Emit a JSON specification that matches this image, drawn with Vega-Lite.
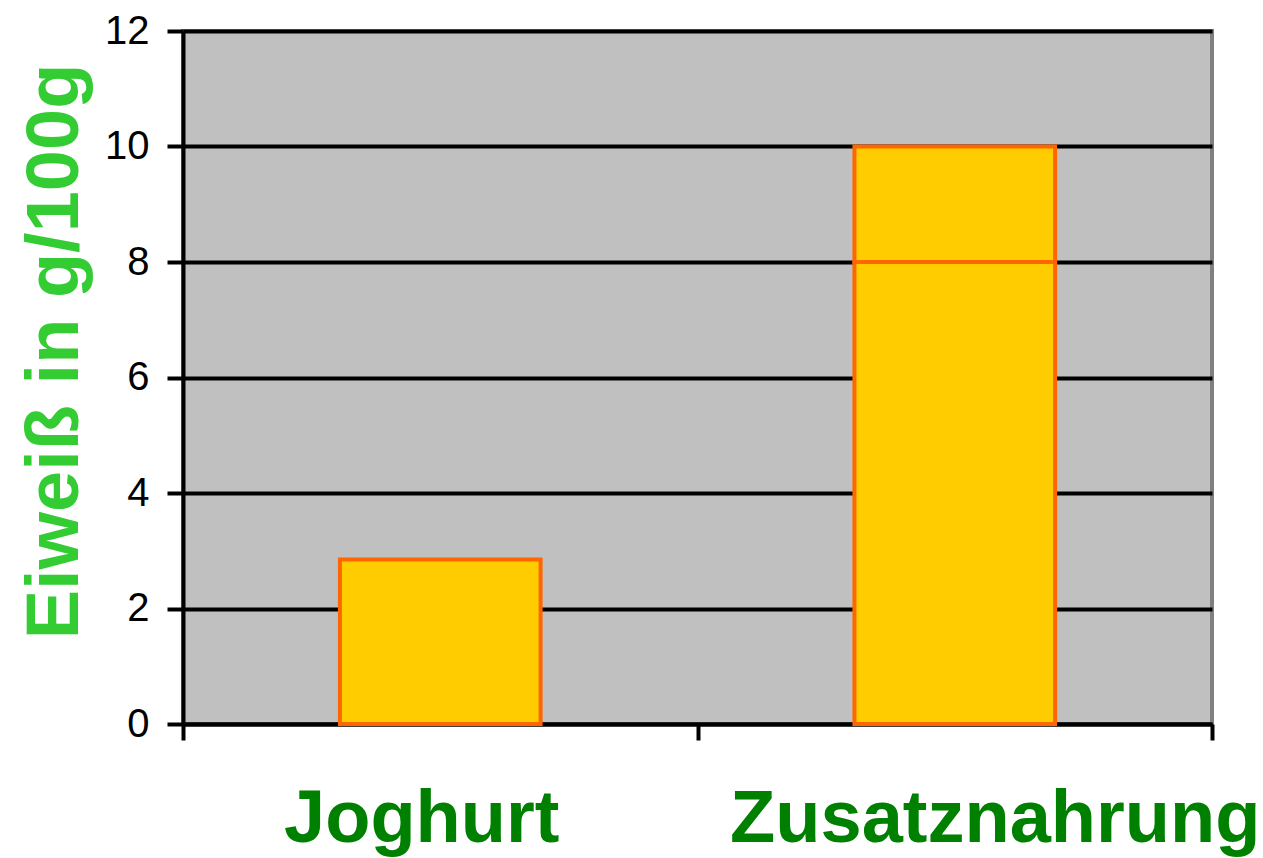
{
  "$schema": "https://vega.github.io/schema/vega-lite/v6.json",
  "width": 1029,
  "height": 693,
  "autosize": "none",
  "padding": {"left": 183, "top": 31, "right": 51, "bottom": 134},
  "background": "white",
  "config": {
    "font": "Liberation Sans",
    "view": {"fill": "#C0C0C0", "stroke": "#808080", "strokeWidth": 4}
  },
  "data": {
    "values": [
      {"Produkt": "Joghurt", "Teil": 1, "Eiweiss": 2.85},
      {"Produkt": "Zusatznahrung", "Teil": 1, "Eiweiss": 8},
      {"Produkt": "Zusatznahrung", "Teil": 2, "Eiweiss": 2}
    ]
  },
  "mark": {"type": "bar", "fill": "#FFCC00", "stroke": "#FF6600", "strokeWidth": 4, "width": {"band": 0.39}},
  "encoding": {
    "x": {
      "field": "Produkt",
      "type": "nominal",
      "sort": ["Joghurt", "Zusatznahrung"],
      "scale": {"paddingInner": 0, "paddingOuter": 0},
      "axis": {
        "title": null,
        "labelAngle": 0,
        "tickBand": "extent",
        "domainColor": "black",
        "domainWidth": 4,
        "tickColor": "black",
        "tickWidth": 4,
        "tickSize": 16,
        "labelFont": "Liberation Sans",
        "labelFontSize": 74,
        "labelFontWeight": "bold",
        "labelColor": "#008000",
        "labelPadding": 43,
        "labelLimit": 0,
        "labelOverlap": false,
        "labelBound": false,
        "labelFlush": false,
        "labelOffset": {"condition": {"test": "datum.value == 'Joghurt'", "value": -19}, "value": 40}
      }
    },
    "y": {
      "field": "Eiweiss",
      "type": "quantitative",
      "aggregate": "sum",
      "stack": "zero",
      "scale": {"domain": [0, 12], "nice": false},
      "axis": {
        "title": "Eiweiß in g/100g",
        "values": [0, 2, 4, 6, 8, 10, 12],
        "grid": true,
        "gridColor": "black",
        "gridWidth": 4,
        "gridOpacity": 1,
        "domainColor": "black",
        "domainWidth": 4,
        "tickColor": "black",
        "tickWidth": 4,
        "tickSize": 16,
        "labelFont": "Liberation Sans",
        "labelFontSize": 40,
        "labelColor": "black",
        "labelPadding": 18,
        "titleFont": "Liberation Sans",
        "titleFontSize": 74,
        "titleFontWeight": "bold",
        "titleColor": "#33CC33",
        "titleAngle": -90,
        "titleAlign": "center",
        "titleBaseline": "middle",
        "titleX": -128,
        "titleY": 320
      }
    },
    "detail": {"field": "Teil", "type": "ordinal"},
    "order": {"field": "Teil", "type": "ordinal"}
  }
}
